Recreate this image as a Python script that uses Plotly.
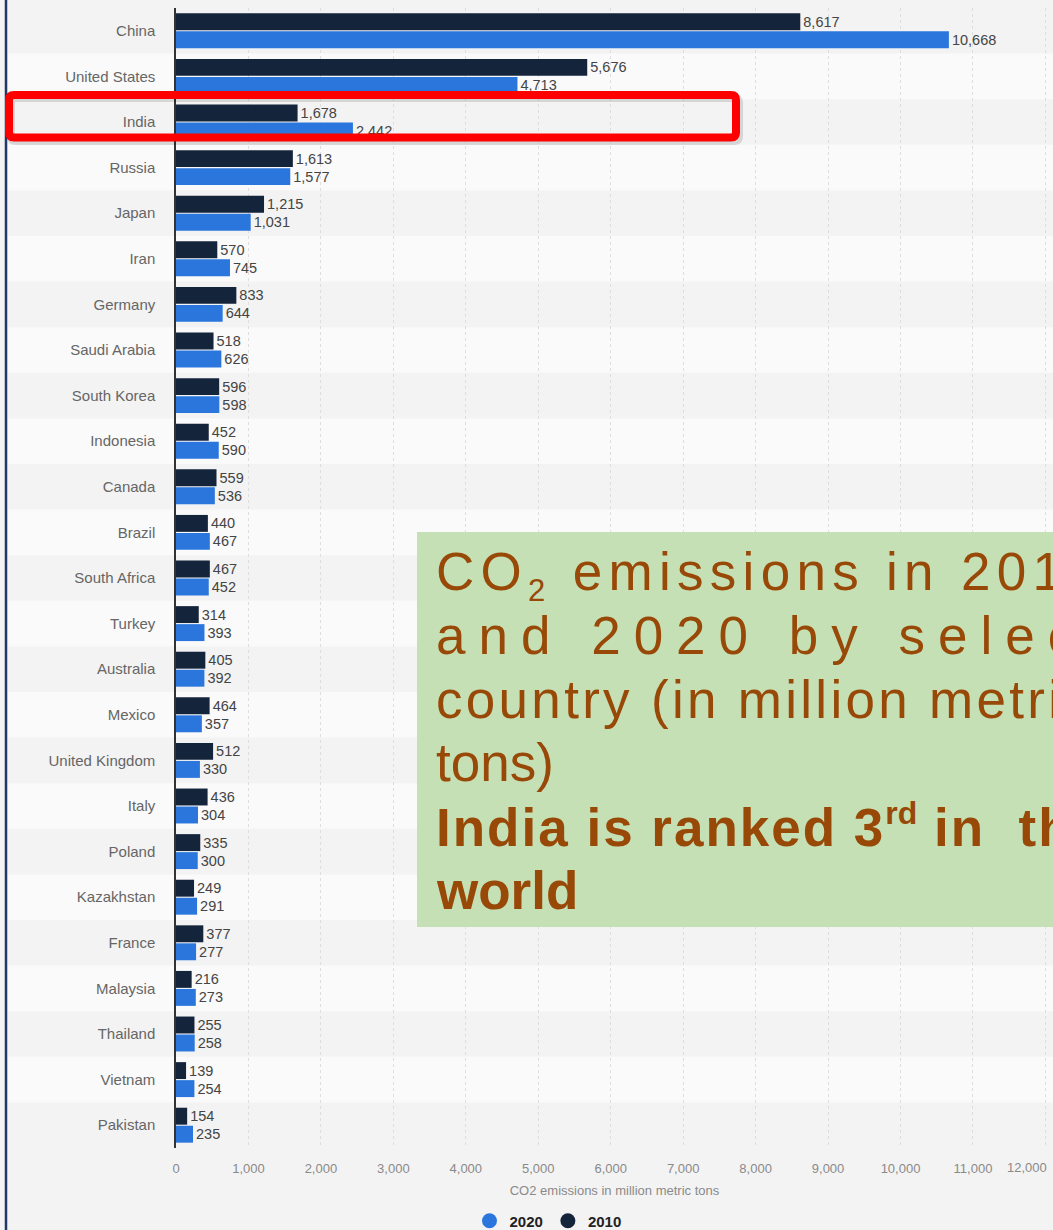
import plotly.graph_objects as go

# CO2 emissions by country, million metric tons
countries = [
    "China", "United States", "India", "Russia", "Japan", "Iran", "Germany",
    "Saudi Arabia", "South Korea", "Indonesia", "Canada", "Brazil",
    "South Africa", "Turkey", "Australia", "Mexico", "United Kingdom",
    "Italy", "Poland", "Kazakhstan", "France", "Malaysia", "Thailand",
    "Vietnam", "Pakistan",
]
emissions_2010 = [
    8617, 5676, 1678, 1613, 1215, 570, 833, 518, 596, 452, 559, 440,
    467, 314, 405, 464, 512, 436, 335, 249, 377, 216, 255, 139, 154,
]
emissions_2020 = [
    10668, 4713, 2442, 1577, 1031, 745, 644, 626, 598, 590, 536, 467,
    452, 393, 392, 357, 330, 304, 300, 291, 277, 273, 258, 254, 235,
]
x_tick_values = [0, 1000, 2000, 3000, 4000, 5000, 6000, 7000, 8000,
                 9000, 10000, 11000, 12000]
x_tick_labels = ["0", "1,000", "2,000", "3,000", "4,000", "5,000", "6,000",
                 "7,000", "8,000", "9,000", "10,000", "11,000", "12,000"]
series_names = ["2010", "2020"]
x_title = "CO2 emissions in million metric tons"
note_lines = [
    '<span style="letter-spacing:6.3px">CO<sub><span style="font-size:31px">2</span></sub> emissions in 2010</span>',
    '<span style="letter-spacing:13px">and 2020 by selected</span>',
    '<span style="letter-spacing:3.3px">country (in million metric</span>',
    'tons)',
    '<b><span style="letter-spacing:2px">India is ranked 3</span><sup><span style="font-size:32px">rd</span></sup><span style="letter-spacing:2px"> in  the</span></b>',
    '<b>world</b>',
]
note_baselines = [598, 655, 719, 782, 847, 910]

W, H = 1053, 1230
L, R, T, B = 176, 1053, 8, 1148  # plot area in pixels


def px_x(p):
    return (p - L) / (R - L)


def px_y(p):
    return (B - p) / (B - T)


def rounded_rect(x0, y0, x1, y1, r):
    """SVG path of a rounded rectangle, pixel corners -> paper coords."""
    rx = r / (R - L)
    ry = r / (B - T)
    a, b = px_x(x0), px_x(x1)
    top, bot = px_y(y0), px_y(y1)
    return (
        f"M{a + rx},{top} L{b - rx},{top} Q{b},{top} {b},{top - ry} "
        f"L{b},{bot + ry} Q{b},{bot} {b - rx},{bot} "
        f"L{a + rx},{bot} Q{a},{bot} {a},{bot + ry} "
        f"L{a},{top - ry} Q{a},{top} {a + rx},{top} Z"
    )


DARK = "#14243b"
BLUE = "#2a76dd"
FONT = "Liberation Sans, Arial, sans-serif"

fig = go.Figure()
fig.add_trace(go.Bar(
    name=series_names[0], y=countries, x=emissions_2010, orientation="h",
    marker=dict(color=DARK, line=dict(width=0)),
    texttemplate="%{x:,}", textposition="outside", cliponaxis=False,
    textfont=dict(size=14.5, color="#444444", family=FONT),
    showlegend=False, hoverinfo="skip",
))
fig.add_trace(go.Bar(
    name=series_names[1], y=countries, x=emissions_2020, orientation="h",
    marker=dict(color=BLUE, line=dict(width=0)),
    texttemplate="%{x:,}", textposition="outside", cliponaxis=False,
    textfont=dict(size=14.5, color="#444444", family=FONT),
    showlegend=False, hoverinfo="skip",
))
# circular legend keys
for name, col, rank in [(series_names[1], BLUE, 1), (series_names[0], DARK, 2)]:
    fig.add_trace(go.Scatter(
        x=[None], y=[None], mode="markers", name=name, legendrank=rank,
        marker=dict(symbol="circle", size=15, color=col),
    ))

shapes = []
# alternating row bands
for i in range(len(countries)):
    if i % 2 == 1:
        shapes.append(dict(
            type="rect", xref="paper", yref="y", x0=px_x(8), x1=1.0,
            y0=i - 0.5, y1=i + 0.5, fillcolor="#fafafa", line=dict(width=0),
            layer="below",
        ))
# frame line on the left edge
shapes.append(dict(
    type="line", xref="paper", yref="paper", x0=px_x(6), x1=px_x(6),
    y0=px_y(0), y1=px_y(H), line=dict(color="#1f3864", width=2.5),
))
# highlight box around India (soft shadow, then the red frame)
shapes.append(dict(
    type="path", xref="paper", yref="paper",
    path=rounded_rect(11, 98, 739, 141, 5),
    line=dict(color="rgba(0,0,0,0.12)", width=8), layer="above",
))
shapes.append(dict(
    type="path", xref="paper", yref="paper",
    path=rounded_rect(9, 95, 736, 137.5, 5),
    line=dict(color="#ff0000", width=8), layer="above",
))
# green note panel
shapes.append(dict(
    type="rect", xref="paper", yref="paper", x0=px_x(417), x1=px_x(1070),
    y0=px_y(927), y1=px_y(532), fillcolor="#c5e0b4", line=dict(width=0),
    layer="above",
))

annotations = []
for text, base in zip(note_lines, note_baselines):
    annotations.append(dict(
        text=text, xref="paper", yref="paper", x=px_x(434), y=px_y(base + 12),
        xanchor="left", yanchor="bottom", showarrow=False, align="left",
        font=dict(size=53, color="#984807", family=FONT),
    ))
# last tick label, kept inside the right edge
annotations.append(dict(
    text=x_tick_labels[-1], xref="paper", yref="paper", x=px_x(1049),
    y=px_y(1167), xanchor="right", yanchor="middle", showarrow=False,
    font=dict(size=13, color="#8a8a8a", family=FONT),
))

fig.update_layout(
    width=W, height=H,
    margin=dict(l=L, r=W - R, t=T, b=H - B, autoexpand=False),
    paper_bgcolor="#f3f3f3", plot_bgcolor="#f3f3f3",
    barmode="group", bargap=0.21, bargroupgap=0.06,
    font=dict(family=FONT),
    shapes=shapes, annotations=annotations,
    legend=dict(
        orientation="h", x=px_x(548), xanchor="center", y=px_y(1221),
        yanchor="middle", bgcolor="rgba(0,0,0,0)",
        font=dict(size=15, color="#222222", family=FONT, weight="bold"),
        itemwidth=30, traceorder="normal",
    ),
    xaxis=dict(
        range=[0, (R - L) / 72.45 * 1000], tickvals=x_tick_values,
        ticktext=x_tick_labels[:-1] + [""],
        showgrid=True, gridcolor="#dedede", griddash="dot", gridwidth=1,
        zeroline=False, showline=False, ticks="", ticklabelstandoff=11,
        tickfont=dict(size=13, color="#8a8a8a", family=FONT),
        title=dict(text=x_title, standoff=10,
                   font=dict(size=13, color="#8a8a8a", family=FONT)),
        fixedrange=True,
    ),
    yaxis=dict(
        range=[len(countries) - 0.5, -0.5], type="category",
        showgrid=False, zeroline=False, showline=True, linecolor="#333333",
        linewidth=1.5, ticks="", ticklabelstandoff=16,
        tickfont=dict(size=15, color="#666666", family=FONT),
        fixedrange=True,
    ),
)

fig.write_html("out.html")
